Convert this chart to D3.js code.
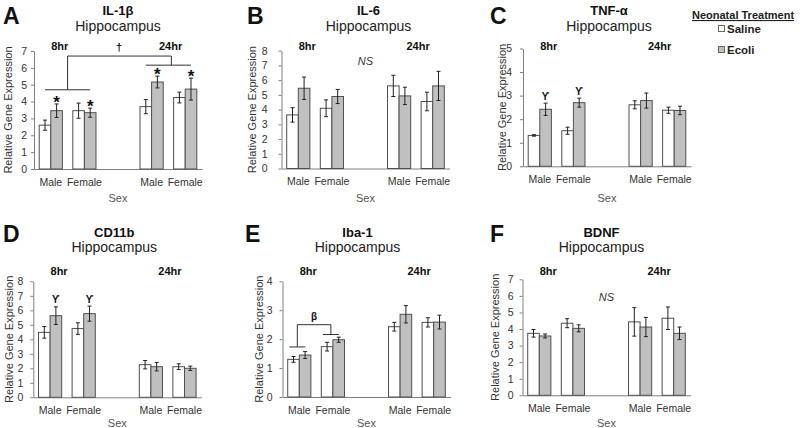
<!DOCTYPE html>
<html><head><meta charset="utf-8">
<script src="https://cdn.jsdelivr.net/npm/d3@7"></script>
<style>
body{margin:0;background:#fff;}
svg{display:block;font-family:"Liberation Sans",Arial,sans-serif;}
</style></head>
<body><svg id="c" width="800" height="428"></svg>
<script>
// ---------- data ----------
const slots = ["M8","F8","gap","M24","F24"];
const groupSlots = ["M8","F8","M24","F24"];
const xLabels = ["Male","Female","","Male","Female"];
const hourLabels = ["8hr","24hr"];
const series = ["Saline","Ecoli"];

const IL1B_saline = [2.60, 3.46, 3.70, 4.24];
const IL1B_salineSE = [0.30, 0.45, 0.42, 0.32];
const IL1B_ecoli = [3.46, 3.34, 5.16, 4.74];
const IL1B_ecoliSE = [0.40, 0.27, 0.35, 0.65];

const IL6_saline = [3.64, 4.09, 5.61, 4.55];
const IL6_salineSE = [0.49, 0.57, 0.72, 0.63];
const IL6_ecoli = [5.45, 4.89, 4.93, 5.61];
const IL6_ecoliSE = [0.76, 0.48, 0.59, 0.99];

const TNF_saline = [1.31, 1.51, 2.61, 2.38];
const TNF_salineSE = [0.03, 0.15, 0.17, 0.13];
const TNF_ecoli = [2.42, 2.70, 2.79, 2.37];
const TNF_ecoliSE = [0.26, 0.19, 0.32, 0.18];

const CD11B_saline = [4.48, 4.74, 2.25, 2.11];
const CD11B_salineSE = [0.40, 0.40, 0.29, 0.20];
const CD11B_ecoli = [5.63, 5.77, 2.11, 2.00];
const CD11B_ecoliSE = [0.61, 0.52, 0.29, 0.15];

const IBA1_saline = [1.30, 1.74, 2.43, 2.58];
const IBA1_salineSE = [0.10, 0.15, 0.15, 0.16];
const IBA1_ecoli = [1.45, 1.98, 2.86, 2.59];
const IBA1_ecoliSE = [0.12, 0.09, 0.30, 0.24];

const BDNF_saline = [3.74, 4.35, 4.43, 4.65];
const BDNF_salineSE = [0.23, 0.27, 0.86, 0.68];
const BDNF_ecoli = [3.58, 4.04, 4.12, 3.74];
const BDNF_ecoliSE = [0.12, 0.21, 0.58, 0.38];

const panelLetters = ["A","B","C","D","E","F"];
const genes = ["IL-1β","IL-6","TNF-α","CD11b","Iba-1","BDNF"];
const yMaxes = [7, 8, 5, 8, 4, 7];

// ---------- layout ----------
const W = 168;
const rows = [
  {title:15, sub:30.5, hr:49.5, xlab:186, sex:202, letter:23.5},
  {title:237, sub:252, hr:274.5, xlab:412, sex:427, letter:242}
];
const layout = [
  {ax:34,    top:51,   bottom:169,   row:0, tickPad:4,  ylab:22, tdx:84, lx:3},
  {ax:281.5, top:50.7, bottom:168.5, row:0, tickPad:11, ylab:26, tdx:87, lx:247},
  {ax:523,   top:48.5, bottom:166.3, row:0, tickPad:8,  ylab:17, tdx:86, lx:490},
  {ax:33.3,  top:281.3,bottom:397.3, row:1, tickPad:7,  ylab:20, tdx:81, lx:3},
  {ax:282.5, top:281.3,bottom:397,   row:1, tickPad:7,  ylab:20, tdx:75, lx:245},
  {ax:522.5, top:279.3,bottom:395.3, row:1, tickPad:6,  ylab:24, tdx:79, lx:490}
];
const panelData = [
  [IL1B_saline, IL1B_salineSE, IL1B_ecoli, IL1B_ecoliSE],
  [IL6_saline, IL6_salineSE, IL6_ecoli, IL6_ecoliSE],
  [TNF_saline, TNF_salineSE, TNF_ecoli, TNF_ecoliSE],
  [CD11B_saline, CD11B_salineSE, CD11B_ecoli, CD11B_ecoliSE],
  [IBA1_saline, IBA1_salineSE, IBA1_ecoli, IBA1_ecoliSE],
  [BDNF_saline, BDNF_salineSE, BDNF_ecoli, BDNF_ecoliSE]
];

const FILL = ["#ffffff", "#c0c0c0"];
const svg = d3.select("#c");

panelData.forEach((pd, pi) => {
  const L = layout[pi], R = rows[L.row];
  const g = svg.append("g").attr("transform", `translate(${L.ax},0)`);
  const x = d3.scaleBand().domain(slots).range([0, W]);
  const y = d3.scaleLinear().domain([0, yMaxes[pi]]).range([L.bottom, L.top]);
  const bw = x.bandwidth() * 0.345;
  const cx = s => x(s) + x.bandwidth() / 2;

  // panel letter & titles
  svg.append("text").attr("x", L.lx).attr("y", R.letter).attr("font-size", 23)
    .attr("font-weight", "bold").attr("fill", "#111").text(panelLetters[pi]);
  g.append("text").attr("x", L.tdx).attr("y", R.title).attr("text-anchor", "middle")
    .attr("font-size", 13).attr("font-weight", "bold").attr("fill", "#111").text(genes[pi]);
  g.append("text").attr("x", L.tdx).attr("y", R.sub).attr("text-anchor", "middle")
    .attr("font-size", 14).attr("fill", "#222").text("Hippocampus");

  // hour labels
  g.append("text").attr("x", cx("M8") + 9).attr("y", R.hr).attr("text-anchor", "middle")
    .attr("font-size", 11).attr("font-weight", "bold").attr("fill", "#111").text(hourLabels[0]);
  g.append("text").attr("x", cx("M24") + 19).attr("y", R.hr).attr("text-anchor", "middle")
    .attr("font-size", 11).attr("font-weight", "bold").attr("fill", "#111").text(hourLabels[1]);

  // y axis
  const ya = g.append("g").call(d3.axisLeft(y).ticks(yMaxes[pi]).tickSize(3).tickSizeOuter(0).tickPadding(L.tickPad));
  ya.select(".domain").attr("stroke", "#808080");
  ya.selectAll(".tick line").attr("stroke", "#808080");
  ya.selectAll(".tick text").attr("font-size", 10.5).attr("fill", "#333").attr("font-family", "Liberation Sans, Arial");

  // x axis
  const xa = g.append("g").attr("transform", `translate(0,${L.bottom})`)
    .call(d3.axisBottom(x).tickSize(0).tickSizeOuter(0).tickPadding(9.5).tickFormat((d, i) => xLabels[i]));
  xa.select(".domain").attr("stroke", "#808080");
  xa.selectAll(".tick text").attr("font-size", 10.5).attr("fill", "#333").attr("font-family", "Liberation Sans, Arial");

  // axis titles
  g.append("text").attr("transform", `translate(${-L.ylab},${(L.top + L.bottom) / 2}) rotate(-90)`)
    .attr("text-anchor", "middle").attr("font-size", 11).attr("fill", "#333").text("Relative Gene Expression");
  g.append("text").attr("x", 84).attr("y", R.sex).attr("text-anchor", "middle")
    .attr("font-size", 11).attr("fill", "#555").text("Sex");

  // bars + error bars
  [0, 1].forEach(si => {
    const vals = pd[si * 2], errs = pd[si * 2 + 1];
    const bx = (i) => cx(groupSlots[i]) - bw + si * bw;
    g.selectAll(null).data(vals).enter().append("rect")
      .attr("x", (d, i) => bx(i)).attr("y", d => y(d))
      .attr("width", bw).attr("height", d => L.bottom - y(d))
      .attr("fill", FILL[si]).attr("stroke", "#505050").attr("stroke-width", 1);
    const eg = g.selectAll(null).data(vals).enter().append("g");
    eg.append("line").attr("x1", (d, i) => bx(i) + bw / 2).attr("x2", (d, i) => bx(i) + bw / 2)
      .attr("y1", (d, i) => y(d + errs[i])).attr("y2", (d, i) => y(d - errs[i]))
      .attr("stroke", "#222").attr("stroke-width", 1);
    [1, -1].forEach(sg => {
      eg.append("line").attr("x1", (d, i) => bx(i) + bw / 2 - 2).attr("x2", (d, i) => bx(i) + bw / 2 + 2)
        .attr("y1", (d, i) => y(d + sg * errs[i])).attr("y2", (d, i) => y(d + sg * errs[i]))
        .attr("stroke", "#222").attr("stroke-width", 1);
    });
  });

  // annotations
  const line = (x1, y1, x2, y2) => g.append("line").attr("x1", x1).attr("y1", y1).attr("x2", x2).attr("y2", y2)
    .attr("stroke", "#333").attr("stroke-width", 1);
  const ecoliTop = i => y(pd[2][i] + pd[3][i]);
  const ecoliX = i => cx(groupSlots[i]) + bw / 2;
  const salX = i => cx(groupSlots[i]) - bw / 2;
  if (pi === 0) {
    [0, 1, 2, 3].forEach(i => g.append("text").attr("x", ecoliX(i)).attr("y", ecoliTop(i) + 4)
      .attr("text-anchor", "middle").attr("font-size", 17).attr("font-weight", "bold").attr("fill", "#111").text("*"));
    const xa1 = salX(0), xb1 = ecoliX(1), xa2 = salX(2), xb2 = ecoliX(3);
    line(xa1, y(4.7), xb1, y(4.7));
    line(xa2, y(6.16), xb2, y(6.16));
    const m1 = (xa1 + xb1) / 2, m2 = (xa2 + xb2) / 2 + 3;
    line(m1, y(4.7), m1, y(6.7));
    line(m1, y(6.7), m2, y(6.7));
    line(m2, y(6.7), m2, y(6.16));
    g.append("text").attr("x", cx("gap") + 1).attr("y", y(6.7) - 5).attr("text-anchor", "middle")
      .attr("font-size", 11).attr("font-weight", "bold").attr("fill", "#111").text("†");
  }
  if (pi === 2 || pi === 3) {
    [0, 1].forEach(i => g.append("text").attr("x", ecoliX(i)).attr("y", ecoliTop(i) - 3.5)
      .attr("text-anchor", "middle").attr("font-size", 10).attr("font-weight", "bold").attr("fill", "#111").text("ϒ"));
  }
  if (pi === 1 || pi === 5) {
    const nsV = pi === 1 ? 7.05 : 5.69;
    g.append("text").attr("x", cx("gap")).attr("y", y(nsV)).attr("text-anchor", "middle")
      .attr("font-size", 11).attr("font-style", "italic").attr("fill", "#333").text("NS");
  }
  if (pi === 4) {
    const c0 = cx("M8"), c1 = cx("F8");
    line(c0 - 10, y(1.73), c0 + 6, y(1.73));
    line(c1 - 10, y(2.16), c1 + 6, y(2.16));
    line(c0 - 2, y(1.73), c0 - 2, y(2.5));
    line(c0 - 2, y(2.5), c1 - 2, y(2.5));
    line(c1 - 2, y(2.5), c1 - 2, y(2.16));
    g.append("text").attr("x", (c0 + c1) / 2 - 2).attr("y", y(2.5) - 4.5).attr("text-anchor", "middle")
      .attr("font-size", 10).attr("font-weight", "bold").attr("fill", "#111").text("β");
  }
});

// legend
const lg = svg.append("g");
lg.append("text").attr("x", 692).attr("y", 19).attr("font-size", 11).attr("font-weight", "bold")
  .attr("fill", "#222").attr("text-decoration", "underline").text("Neonatal Treatment");
series.forEach((s, i) => {
  lg.append("rect").attr("x", 718.5).attr("y", 25.5 + i * 21).attr("width", 6).attr("height", 6)
    .attr("fill", FILL[i]).attr("stroke", "#666").attr("stroke-width", 1);
  lg.append("text").attr("x", 727).attr("y", 32.5 + i * 21).attr("font-size", 11.5).attr("font-weight", "bold")
    .attr("fill", "#222").text(s);
});
</script></body></html>
